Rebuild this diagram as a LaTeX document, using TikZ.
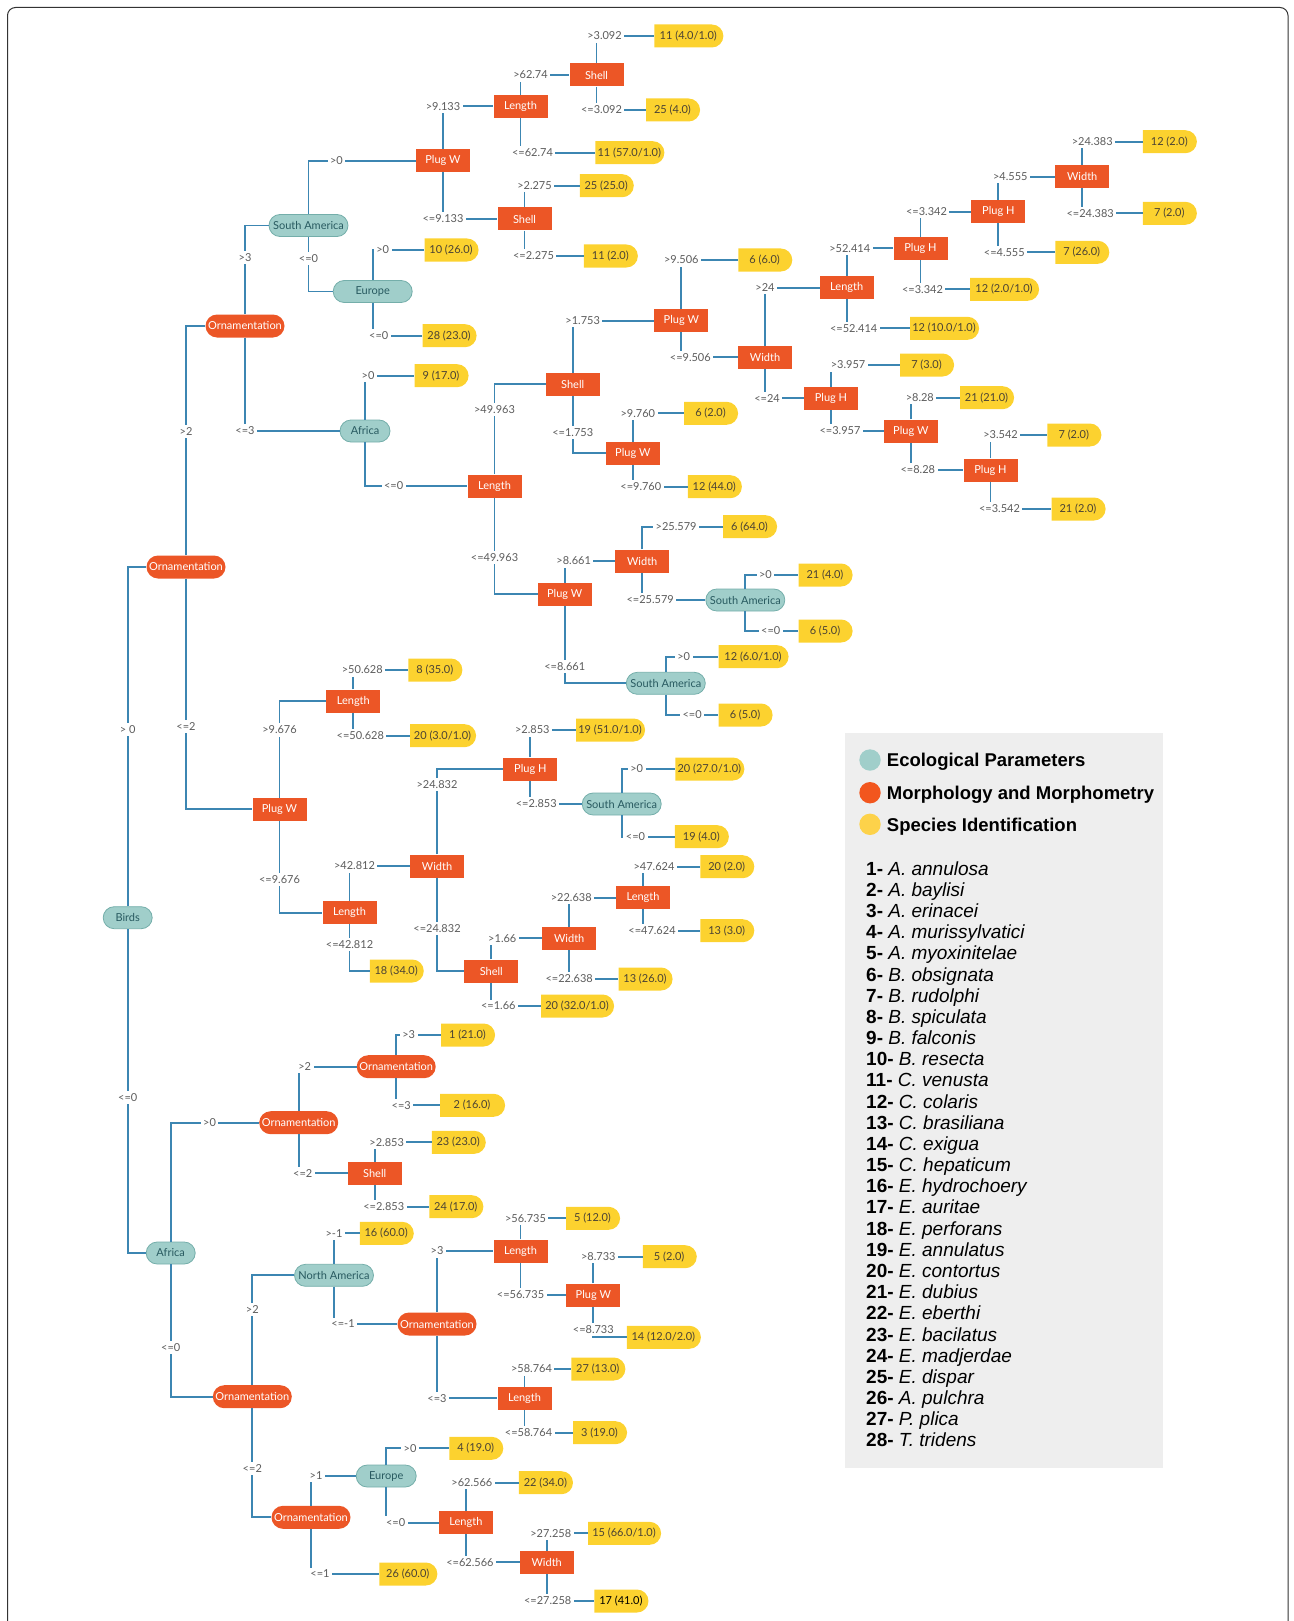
\documentclass[tikz,border=0pt]{standalone}
\usepackage{fontspec}
\setmainfont{Lato}
\newfontfamily\legfont{Liberation Sans}
\usepackage{xcolor}
\usepackage{tikz}
\usetikzlibrary{shapes.misc,positioning}

\definecolor{edgeblue}{HTML}{3C86B2}
\definecolor{morph}{HTML}{EC5626}
\definecolor{ecofill}{HTML}{A0CECA}
\definecolor{ecoline}{HTML}{74AEAA}
\definecolor{ecotext}{HTML}{285A60}
\definecolor{spec}{HTML}{FCD22F}
\definecolor{spectext}{HTML}{4A4234}
\definecolor{lblgray}{HTML}{5C5C5C}
\definecolor{leggray}{HTML}{EEEEEE}
\definecolor{legorange}{HTML}{F2561E}
\definecolor{legyellow}{HTML}{FDD24A}
\newcommand{\treefont}{\fontsize{11}{13}\selectfont}

\begin{document}
\begin{tikzpicture}[x=1pt,y=-1pt,
    ecol/.style={rounded rectangle, draw=ecoline, fill=ecofill, text=ecotext, minimum height=22, minimum width=83, inner sep=2pt, font=\treefont, line width=0.8},
    orn/.style={rounded rectangle, fill=morph, text=white, minimum height=23, minimum width=83, inner sep=2pt, font=\treefont},
    feat/.style={rectangle, fill=morph, text=white, minimum height=23, minimum width=54, inner sep=2pt, font=\treefont},
    leaf/.style={rounded rectangle, rounded rectangle west arc=none, fill=spec, text=spectext, minimum height=23, minimum width=58, inner sep=2pt, font=\treefont},
    link/.style={draw=edgeblue, line width=1.8},
    lbl/.style={fill=white, text=lblgray, inner sep=2.5pt, font=\treefont},
    legbox/.style={rectangle, fill=leggray, inner sep=0pt},
    legdot/.style={circle, minimum size=21.4, inner sep=0pt},
    leghead/.style={font=\legfont\bfseries\fontsize{18.5}{20}\selectfont, inner sep=0pt},
    legitem/.style={font=\legfont\fontsize{19}{21}\selectfont, inner sep=0pt}
]
    \useasboundingbox (0,0) rectangle (1293,1621);
    \draw[rounded corners=8, line width=1, black!80] (7.5,1640) -- (7.5,7.5) -- (1288,7.5) -- (1288,1640);

    % Legend
    \node[legbox, minimum width=317.5, minimum height=734.6, anchor=north west] (legend) at (845,732.7) {};
    \node[legdot, fill=ecofill] (dotE) at (870,760) {};
    \node[legdot, fill=legorange] (dotM) at (870,792.7) {};
    \node[legdot, fill=legyellow] (dotS) at (870,824.3) {};
    \node[leghead, anchor=base west] (headE) at (886.7,766.7) {Ecological Parameters};
    \node[leghead, anchor=base west] (headM) at (886.7,799.4) {Morphology and Morphometry};
    \node[leghead, anchor=base west] (headS) at (886.7,831) {Species Identification};
    \foreach \sp [count=\i] in {A. annulosa, A. baylisi, A. erinacei, A. murissylvatici, A. myoxinitelae,
        B. obsignata, B. rudolphi, B. spiculata, B. falconis, B. resecta, C. venusta, C. colaris,
        C. brasiliana, C. exigua, C. hepaticum, E. hydrochoery, E. auritae, E. perforans,
        E. annulatus, E. contortus, E. dubius, E. eberthi, E. bacilatus, E. madjerdae,
        E. dispar, A. pulchra, P. plica, T. tridens}
        \node[legitem, anchor=base west] (sp\i) at (866,{875.1+21.18*(\i-1)}) {\textbf{\i-} \textit{\sp}};

    % Decision nodes
    \node[ecol, minimum width=53] (birds) at (127.7,917.7) {Birds};
    \node[orn] (ornA) at (186,567) {Ornamentation};
    \node[orn] (ornB) at (245,326) {Ornamentation};
    \node[ecol] (saA) at (308.5,225.5) {South America};
    \node[ecol] (euA) at (372.7,291.5) {Europe};
    \node[ecol, minimum width=54] (afA) at (365,431) {Africa};
    \node[feat] (pwA) at (443,160.7) {Plug W};
    \node[feat] (lenA) at (520.5,106.3) {Length};
    \node[feat] (shA) at (596.5,75) {Shell};
    \node[feat] (shB) at (524.5,219) {Shell};
    \node[feat] (lenB) at (494.5,486) {Length};
    \node[feat] (shC) at (572.7,384.3) {Shell};
    \node[feat] (pwB) at (681.3,320.7) {Plug W};
    \node[feat] (pwC) at (632.8,453.3) {Plug W};
    \node[feat] (wdA) at (765,357.3) {Width};
    \node[feat] (lenC) at (846.7,287.7) {Length};
    \node[feat] (phA) at (920.5,248.3) {Plug H};
    \node[feat] (phB) at (998.3,211.7) {Plug H};
    \node[feat] (wdB) at (1082.2,176.7) {Width};
    \node[feat] (phC) at (831,398.3) {Plug H};
    \node[feat] (pwD) at (910.8,431) {Plug W};
    \node[feat] (phD) at (990.5,470) {Plug H};
    \node[feat] (pwE) at (564.7,594.3) {Plug W};
    \node[feat] (wdC) at (642.2,561) {Width};
    \node[ecol] (saB) at (745.3,600) {South America};
    \node[ecol] (saC) at (665.8,683.3) {South America};
    \node[feat] (pwF) at (279.5,809.3) {Plug W};
    \node[feat] (lenD) at (353.3,701) {Length};
    \node[feat] (lenE) at (349.5,912.7) {Length};
    \node[feat] (wdD) at (437,866) {Width};
    \node[feat] (phE) at (530.3,769) {Plug H};
    \node[ecol] (saD) at (621.7,804) {South America};
    \node[feat] (shD) at (491.3,971) {Shell};
    \node[feat] (wdE) at (569.2,938.3) {Width};
    \node[feat] (lenF) at (643,897.7) {Length};
    \node[ecol, minimum width=53] (afB) at (170.7,1253) {Africa};
    \node[orn] (ornC) at (298.7,1122.7) {Ornamentation};
    \node[orn] (ornD) at (396.2,1066.7) {Ornamentation};
    \node[feat] (shE) at (374.7,1173.3) {Shell};
    \node[orn] (ornE) at (252.3,1396.7) {Ornamentation};
    \node[ecol] (naA) at (334,1275.3) {North America};
    \node[orn] (ornF) at (437,1324) {Ornamentation};
    \node[feat] (lenG) at (520.5,1251) {Length};
    \node[feat] (pwG) at (593.3,1295) {Plug W};
    \node[feat] (lenH) at (524.5,1398.3) {Length};
    \node[orn] (ornG) at (311,1517.3) {Ornamentation};
    \node[ecol, minimum width=64] (euB) at (386.2,1476) {Europe};
    \node[feat] (lenI) at (465.9,1522.7) {Length};
    \node[feat] (wdF) at (546.7,1562.3) {Width};

    % Species leaves
    \node[leaf, minimum width=73] (l1) at (688.3,36) {11 (4.0/1.0)};
    \node[leaf] (l2) at (672.5,110) {25 (4.0)};
    \node[leaf, minimum width=73] (l3) at (629.3,152.7) {11 (57.0/1.0)};
    \node[leaf] (l4) at (606.2,185.7) {25 (25.0)};
    \node[leaf] (l5) at (610.3,256) {11 (2.0)};
    \node[leaf] (l6) at (451,250) {10 (26.0)};
    \node[leaf] (l7) at (449,335.7) {28 (23.0)};
    \node[leaf] (l8) at (441,375.7) {9 (17.0)};
    \node[leaf] (l9) at (764.7,260) {6 (6.0)};
    \node[leaf] (l10) at (714.3,486.7) {12 (44.0)};
    \node[leaf] (l11) at (710.5,413.3) {6 (2.0)};
    \node[leaf] (l12) at (1169.3,141.7) {12 (2.0)};
    \node[leaf] (l13) at (1169.3,213.3) {7 (2.0)};
    \node[leaf] (l14) at (1081.7,252.3) {7 (26.0)};
    \node[leaf, minimum width=73] (l15) at (1004,289.3) {12 (2.0/1.0)};
    \node[leaf, minimum width=73] (l16) at (944,328.3) {12 (10.0/1.0)};
    \node[leaf] (l17) at (926.5,365) {7 (3.0)};
    \node[leaf] (l18) at (986.5,397.7) {21 (21.0)};
    \node[leaf] (l19) at (1073.8,435) {7 (2.0)};
    \node[leaf] (l20) at (1078,509) {21 (2.0)};
    \node[leaf] (l21) at (749.5,526.7) {6 (64.0)};
    \node[leaf] (l22) at (825,575) {21 (4.0)};
    \node[leaf] (l23) at (825,631) {6 (5.0)};
    \node[leaf, minimum width=74] (l24) at (753,656.7) {12 (6.0/1.0)};
    \node[leaf] (l25) at (745,715) {6 (5.0)};
    \node[leaf] (l26) at (434.8,670) {8 (35.0)};
    \node[leaf, minimum width=70] (l27) at (442.5,735.7) {20 (3.0/1.0)};
    \node[leaf] (l28) at (396.2,971) {18 (34.0)};
    \node[leaf, minimum width=73] (l29) at (610,730) {19 (51.0/1.0)};
    \node[leaf, minimum width=73] (l30) at (709.3,769) {20 (27.0/1.0)};
    \node[leaf] (l31) at (701.3,836.7) {19 (4.0)};
    \node[leaf, minimum width=77] (l32) at (577,1006) {20 (32.0/1.0)};
    \node[leaf] (l33) at (645,979) {13 (26.0)};
    \node[leaf] (l34) at (726.7,866.7) {20 (2.0)};
    \node[leaf] (l35) at (726.7,930.7) {13 (3.0)};
    \node[leaf] (l36) at (467.5,1035) {1 (21.0)};
    \node[leaf, minimum width=69] (l37) at (472,1105.3) {2 (16.0)};
    \node[leaf] (l38) at (458.2,1142.3) {23 (23.0)};
    \node[leaf] (l39) at (455.8,1206.7) {24 (17.0)};
    \node[leaf] (l40) at (386.2,1233.3) {16 (60.0)};
    \node[leaf] (l41) at (592.5,1218.3) {5 (12.0)};
    \node[leaf] (l42) at (669.2,1256.7) {5 (2.0)};
    \node[leaf, minimum width=78] (l43) at (663.3,1337.3) {14 (12.0/2.0)};
    \node[leaf] (l44) at (597.8,1369) {27 (13.0)};
    \node[leaf] (l45) at (599.5,1432.7) {3 (19.0)};
    \node[leaf] (l46) at (475.7,1448.3) {4 (19.0)};
    \node[leaf, minimum width=62] (l47) at (407.8,1574) {26 (60.0)};
    \node[leaf] (l48) at (545.4,1482.7) {22 (34.0)};
    \node[leaf, minimum width=77] (l49) at (624,1533.3) {15 (66.0/1.0)};
    \node[leaf, text=black] (l50) at (620.9,1601) {17 (41.0)};

    % Branches of the upper half
    \draw[link] (birds) |- node[lbl,pos=.26] {> 0} (ornA);
    \draw[link] (ornA) |- node[lbl,pos=.27] {>2} (ornB);
    \draw[link] (ornA) |- node[lbl,pos=.32] {<=2} (pwF);
    \draw[link] (ornB) |- node[lbl,pos=.32] {>3} (saA);
    \draw[link] (ornB) |- node[lbl,pos=.5] {<=3} (afA);
    \draw[link] (saA) |- node[lbl,pos=.63] {>0} (pwA);
    \draw[link] (saA) |- node[lbl,pos=.2] {<=0} (euA);
    \draw[link] (euA) |- node[lbl,pos=.5,xshift=10] {>0} (l6);
    \draw[link] (euA) |- node[lbl,pos=.5,xshift=6] {<=0} (l7);
    \draw[link] (afA) |- node[lbl,pos=.5,xshift=3] {>0} (l8);
    \draw[link] (afA) |- node[lbl,pos=.64] {<=0} (lenB);
    \draw[link] (pwA) |- node[lbl,pos=.5] {>9.133} (lenA);
    \draw[link] (pwA) |- node[lbl,pos=.5] {<=9.133} (shB);
    \draw[link] (lenA) |- node[lbl,pos=.5,xshift=10] {>62.74} (shA);
    \draw[link] (lenA) |- node[lbl,pos=.5,xshift=12] {<=62.74} (l3);
    \draw[link] (shA) |- node[lbl,pos=.5,xshift=8] {>3.092} (l1);
    \draw[link] (shA) |- node[lbl,pos=.5,xshift=5] {<=3.092} (l2);
    \draw[link] (shB) |- node[lbl,pos=.5,xshift=10] {>2.275} (l4);
    \draw[link] (shB) |- node[lbl,pos=.5,xshift=9] {<=2.275} (l5);
    \draw[link] (lenB) |- node[lbl,pos=.36] {>49.963} (shC);
    \draw[link] (lenB) |- node[lbl,pos=.31] {<=49.963} (pwE);
    \draw[link] (shC) |- node[lbl,pos=.5,xshift=10] {>1.753} (pwB);
    \draw[link] (shC) |- node[lbl,pos=.32] {<=1.753} (pwC);
    \draw[link] (pwB) |- node[lbl,pos=.5] {>9.506} (l9);
    \draw[link] (pwB) |- node[lbl,pos=.5,xshift=9] {<=9.506} (wdA);
    \draw[link] (pwC) |- node[lbl,pos=.5,xshift=5] {>9.760} (l11);
    \draw[link] (pwC) |- node[lbl,pos=.5,xshift=8] {<=9.760} (l10);
    \draw[link] (wdA) |- node[lbl,pos=.5] {>24} (lenC);
    \draw[link] (wdA) |- node[lbl,pos=.5,xshift=2] {<=24} (phC);
    \draw[link] (lenC) |- node[lbl,pos=.5,xshift=3] {>52.414} (phA);
    \draw[link] (lenC) |- node[lbl,pos=.5,xshift=7] {<=52.414} (l16);
    \draw[link] (phA) |- node[lbl,pos=.5,xshift=6] {<=3.342} (phB);
    \draw[link] (phA) |- node[lbl,pos=.5,xshift=2] {<=3.342} (l15);
    \draw[link] (phB) |- node[lbl,pos=.5,xshift=12] {>4.555} (wdB);
    \draw[link] (phB) |- node[lbl,pos=.5,xshift=6] {<=4.555} (l14);
    \draw[link] (wdB) |- node[lbl,pos=.5,xshift=10] {>24.383} (l12);
    \draw[link] (wdB) |- node[lbl,pos=.5,xshift=8] {<=24.383} (l13);
    \draw[link] (phC) |- node[lbl,pos=.5,xshift=17] {>3.957} (l17);
    \draw[link] (phC) |- node[lbl,pos=.5,xshift=9] {<=3.957} (pwD);
    \draw[link] (pwD) |- node[lbl,pos=.5,xshift=9] {>8.28} (l18);
    \draw[link] (pwD) |- node[lbl,pos=.5,xshift=7] {<=8.28} (phD);
    \draw[link] (phD) |- node[lbl,pos=.5,xshift=10] {>3.542} (l19);
    \draw[link] (phD) |- node[lbl,pos=.5,xshift=9] {<=3.542} (l20);
    \draw[link] (pwE) |- node[lbl,pos=.5,xshift=9] {>8.661} (wdC);
    \draw[link] (pwE) |- node[lbl,pos=.39] {<=8.661} (saC);
    \draw[link] (wdC) |- node[lbl,pos=.71] {>25.579} (l21);
    \draw[link] (wdC) |- node[lbl,pos=.5,xshift=8] {<=25.579} (saB);
    \draw[link] (saB) |- node[lbl,pos=.69] {>0} (l22);
    \draw[link] (saB) |- node[lbl,pos=.74] {<=0} (l23);
    \draw[link] (saC) |- node[lbl,pos=.67] {>0} (l24);
    \draw[link] (saC) |- node[lbl,pos=.75] {<=0} (l25);

    % Branches of the middle part
    \draw[link] (pwF) |- node[lbl,pos=.35] {>9.676} (lenD);
    \draw[link] (pwF) |- node[lbl,pos=.32] {<=9.676} (lenE);
    \draw[link] (lenD) |- node[lbl,pos=.5,xshift=9] {>50.628} (l26);
    \draw[link] (lenD) |- node[lbl,pos=.5,xshift=7] {<=50.628} (l27);
    \draw[link] (lenE) |- node[lbl,pos=.5,xshift=5] {>42.812} (wdD);
    \draw[link] (lenE) |- node[lbl,pos=.215] {<=42.812} (l28);
    \draw[link] (wdD) |- node[lbl,pos=.41] {>24.832} (phE);
    \draw[link] (wdD) |- node[lbl,pos=.27] {<=24.832} (shD);
    \draw[link] (phE) |- node[lbl,pos=.5,xshift=2] {>2.853} (l29);
    \draw[link] (phE) |- node[lbl,pos=.5,xshift=6] {<=2.853} (saD);
    \draw[link] (saD) |- node[lbl,pos=.64] {>0} (l30);
    \draw[link] (saD) |- node[lbl,pos=.63] {<=0} (l31);
    \draw[link] (shD) |- node[lbl,pos=.5,xshift=11] {>1.66} (wdE);
    \draw[link] (shD) |- node[lbl,pos=.5,xshift=7] {<=1.66} (l32);
    \draw[link] (wdE) |- node[lbl,pos=.5,xshift=2] {>22.638} (lenF);
    \draw[link] (wdE) |- node[lbl,pos=.5] {<=22.638} (l33);
    \draw[link] (lenF) |- node[lbl,pos=.5,xshift=11] {>47.624} (l34);
    \draw[link] (lenF) |- node[lbl,pos=.5,xshift=9] {<=47.624} (l35);

    % Branches of the lower half
    \draw[link] (birds) |- node[lbl,pos=.26] {<=0} (afB);
    \draw[link] (afB) |- node[lbl,pos=.72] {>0} (ornC);
    \draw[link] (afB) |- node[lbl,pos=.315] {<=0} (ornE);
    \draw[link] (ornC) |- node[lbl,pos=.5,xshift=6] {>2} (ornD);
    \draw[link] (ornC) |- node[lbl,pos=.5,xshift=4] {<=2} (shE);
    \draw[link] (ornD) |- node[lbl,pos=.64] {>3} (l36);
    \draw[link] (ornD) |- node[lbl,pos=.5,xshift=5] {<=3} (l37);
    \draw[link] (shE) |- node[lbl,pos=.5,xshift=12] {>2.853} (l38);
    \draw[link] (shE) |- node[lbl,pos=.5,xshift=9] {<=2.853} (l39);
    \draw[link] (ornE) |- node[lbl,pos=.345] {>2} (naA);
    \draw[link] (ornE) |- node[lbl,pos=.275] {<=2} (ornG);
    \draw[link] (naA) |- node[lbl,pos=.5] {>-1} (l40);
    \draw[link] (naA) |- node[lbl,pos=.5,xshift=9] {<=-1} (ornF);
    \draw[link] (ornF) |- node[lbl,pos=.5] {>3} (lenG);
    \draw[link] (ornF) |- node[lbl,pos=.5] {<=3} (lenH);
    \draw[link] (lenG) |- node[lbl,pos=.5,xshift=5] {>56.735} (l41);
    \draw[link] (lenG) |- node[lbl,pos=.5] {<=56.735} (pwG);
    \draw[link] (pwG) |- node[lbl,pos=.5,xshift=5] {>8.733} (l42);
    \draw[link] (pwG) |- node[lbl,pos=.5,yshift=8] {<=8.733} (l43);
    \draw[link] (lenH) |- node[lbl,pos=.5,xshift=7] {>58.764} (l44);
    \draw[link] (lenH) |- node[lbl,pos=.5,xshift=4] {<=58.764} (l45);
    \draw[link] (ornG) |- node[lbl,pos=.5,xshift=5] {>1} (euB);
    \draw[link] (ornG) |- node[lbl,pos=.5,xshift=9] {<=1} (l47);
    \draw[link] (euB) |- node[lbl,pos=.69] {>0} (l46);
    \draw[link] (euB) |- node[lbl,pos=.59] {<=0} (lenI);
    \draw[link] (lenI) |- node[lbl,pos=.5,xshift=6] {>62.566} (l48);
    \draw[link] (lenI) |- node[lbl,pos=.5,xshift=4] {<=62.566} (wdF);
    \draw[link] (wdF) |- node[lbl,pos=.5,xshift=4] {>27.258} (l49);
    \draw[link] (wdF) |- node[lbl,pos=.5,xshift=1] {<=27.258} (l50);
\end{tikzpicture}
\end{document}
